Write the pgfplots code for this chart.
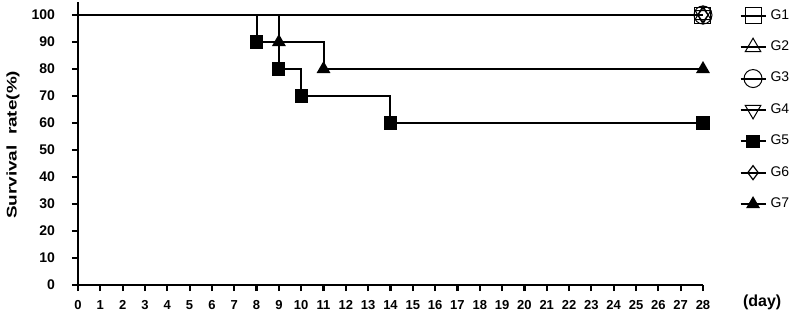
\documentclass[border=0pt]{standalone}
\usepackage{fontspec}
\setmainfont{Liberation Sans}
\usepackage{graphicx}
\usepackage{pgfplots}
\pgfplotsset{compat=1.18}
\begin{document}
\begin{tikzpicture}
\useasboundingbox (-39pt,-13.5pt) rectangle (361pt,142.5pt);
\begin{axis}[
  at={(0,0)}, anchor=origin,
  scale only axis,
  width=312.5pt, height=141.75pt,
  xmin=0, xmax=28, ymin=0, ymax=105,
  clip=false,
  axis x line*=bottom, axis y line*=left,
  axis line style={line width=1.2pt},
  xtick={0,1,...,28}, ytick={0,10,...,100},
  tick align=outside,
  major tick length=3pt,
  tick style={line width=1.1pt, black},
  /pgf/number format/assume math mode=true,
  xticklabel style={font=\fontsize{6.5}{7.5}\selectfont\bfseries, yshift=-1pt},
  yticklabel style={font=\fontsize{7}{8}\selectfont\bfseries, anchor=east, xshift=-5pt},
  ylabel={\scalebox{1.35}[1]{Survival\ \ rate(\%)}},
  ylabel style={font=\fontsize{7}{8}\selectfont\bfseries, at={(axis cs:-2.91,51.9)}, anchor=center, rotate=0},
  xlabel={(day)},
  xlabel style={font=\fontsize{8}{9}\selectfont\bfseries, at={(axis cs:30.65,-6.6)}, anchor=center},
  legend style={draw=none, fill=none, at={(axis cs:29.62,103.7)}, anchor=north west,
    font=\fontsize{7}{8}\selectfont, row sep=5.3pt, inner sep=0pt,
    cells={anchor=west}},
  legend image code/.code={\draw[#1, mark indices={2}] plot coordinates {(0pt,0pt)(6.25pt,0pt)(12.5pt,0pt)};},
]
\addplot[const plot, black, line width=1pt, mark=square, mark size=4pt, mark options={solid, line width=0.5pt}, mark indices={2}] coordinates {(0,100)(28,100)};
\addlegendentry{G1}
\addplot[const plot, black, line width=1pt, mark=triangle, mark size=4.5pt, mark options={solid, line width=0.5pt}, mark indices={2}] coordinates {(0,100)(28,100)};
\addlegendentry{G2}
\addplot[const plot, black, line width=1pt, mark=o, mark size=4.5pt, mark options={solid, line width=0.5pt}, mark indices={2}] coordinates {(0,100)(28,100)};
\addlegendentry{G3}
\addplot[const plot, black, line width=1pt, mark=triangle, mark size=4.5pt, mark options={solid, line width=0.5pt, rotate=180}, mark indices={2}] coordinates {(0,100)(28,100)};
\addlegendentry{G4}
\addplot[const plot, black, line width=1pt, mark=square*, mark size=2.8pt, mark options={solid, fill=black}, mark indices={2,3,4,5,6}] coordinates {(0,100)(8,90)(9,80)(10,70)(14,60)(28,60)};
\addlegendentry{G5}
\addplot[const plot, black, line width=1pt, mark=diamond, mark size=3.5pt, mark options={solid, line width=0.6pt}, mark indices={2}] coordinates {(0,100)(28,100)};
\addlegendentry{G6}
\addplot[const plot, black, line width=1pt, mark=triangle*, mark size=3pt, mark options={solid, fill=black}, mark indices={2,3,4}] coordinates {(0,100)(9,90)(11,80)(28,80)};
\addlegendentry{G7}
\end{axis}
\end{tikzpicture}
\end{document}
